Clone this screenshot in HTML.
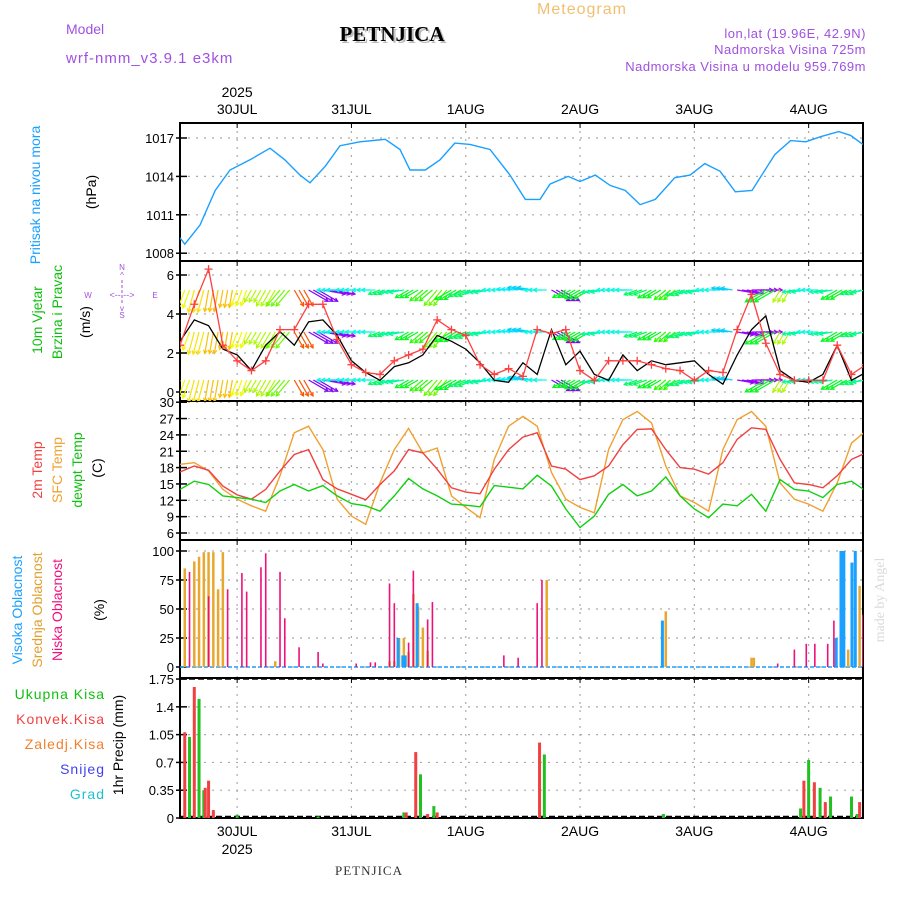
<!DOCTYPE html>
<html><head><meta charset="utf-8">
<style>
html,body{margin:0;padding:0;background:#fff;}
svg{display:block;font-family:"Liberation Sans",sans-serif;}
</style></head>
<body>
<svg id="c" width="900" height="900" viewBox="0 0 900 900">
<text x="582" y="14" font-size="16" fill="#f0c070" text-anchor="middle" letter-spacing="1">Meteogram</text>
<text x="66" y="34" font-size="14" fill="#a050e0">Model</text>
<text x="66" y="63" font-size="15" fill="#a050e0" letter-spacing="1">wrf-nmm_v3.9.1 e3km</text>
<text x="394" y="43" font-size="21" font-weight="bold" fill="#bbb" text-anchor="middle" font-family="Liberation Serif,serif">PETNJICA</text>
<text x="392" y="41" font-size="21" font-weight="bold" fill="#000" text-anchor="middle" font-family="Liberation Serif,serif">PETNJICA</text>
<text x="866" y="38" font-size="13" fill="#a050e0" text-anchor="end" letter-spacing="0.5">lon,lat (19.96E, 42.9N)</text>
<text x="866" y="54" font-size="13" fill="#a050e0" text-anchor="end" letter-spacing="0.5">Nadmorska Visina 725m</text>
<text x="866" y="71" font-size="13" fill="#a050e0" text-anchor="end" letter-spacing="0.5">Nadmorska Visina u modelu 959.769m</text>
<g id="axes"></g>
<text x="40" y="195" font-size="14" fill="#1aa0ff" text-anchor="middle" transform="rotate(-90 40 195)">Pritisak na nivou mora</text>
<text x="96" y="192" font-size="14" fill="#000" text-anchor="middle" transform="rotate(-90 96 192)">(hPa)</text>
<text x="42" y="320" font-size="14" fill="#10c010" text-anchor="middle" transform="rotate(-90 42 320)">10m Vjetar</text>
<text x="62" y="312" font-size="14" fill="#10c010" text-anchor="middle" transform="rotate(-90 62 312)">Brzina i Pravac</text>
<text x="90" y="322" font-size="14" fill="#000" text-anchor="middle" transform="rotate(-90 90 322)">(m/s)</text>
<g fill="#a050e0" font-size="8" text-anchor="middle">
<text x="122" y="270">N</text>
<text x="122" y="278">^</text>
<text x="122" y="318">S</text>
<text x="122" y="311">v</text>
<line x1="122" y1="280" x2="122" y2="305" stroke="#a050e0" stroke-dasharray="3 2"/>
<text x="88" y="298">W</text><text x="155" y="298">E</text>
<text x="122" y="298" font-size="9">&lt;-- --&gt;</text>
</g>
<text x="42" y="470" font-size="14" fill="#f04040" text-anchor="middle" transform="rotate(-90 42 470)">2m Temp</text>
<text x="62" y="470" font-size="14" fill="#f0a030" text-anchor="middle" transform="rotate(-90 62 470)">SFC Temp</text>
<text x="82" y="470" font-size="14" fill="#10c010" text-anchor="middle" transform="rotate(-90 82 470)">dewpt Temp</text>
<text x="102" y="468" font-size="14" fill="#000" text-anchor="middle" transform="rotate(-90 102 468)">(C)</text>
<text x="22" y="610" font-size="14" fill="#1aa0ff" text-anchor="middle" transform="rotate(-90 22 610)">Visoka Oblacnost</text>
<text x="42" y="610" font-size="14" fill="#e0a030" text-anchor="middle" transform="rotate(-90 42 610)">Srednja Oblacnost</text>
<text x="62" y="610" font-size="14" fill="#f0107a" text-anchor="middle" transform="rotate(-90 62 610)">Niska Oblacnost</text>
<text x="104" y="610" font-size="14" fill="#000" text-anchor="middle" transform="rotate(-90 104 610)">(%)</text>
<text x="105" y="699" font-size="14" fill="#10c010" text-anchor="end" letter-spacing="1">Ukupna Kisa</text>
<text x="105" y="724" font-size="14" fill="#f04040" text-anchor="end" letter-spacing="1">Konvek.Kisa</text>
<text x="105" y="749" font-size="14" fill="#f08030" text-anchor="end" letter-spacing="1">Zaledj.Kisa</text>
<text x="105" y="774" font-size="14" fill="#4040f0" text-anchor="end" letter-spacing="1">Snijeg</text>
<text x="105" y="799" font-size="14" fill="#20c0d0" text-anchor="end" letter-spacing="1">Grad</text>
<text x="123" y="745" font-size="14" fill="#000" text-anchor="middle" transform="rotate(-90 123 745)">1hr Precip (mm)</text>
<text x="884" y="600" font-size="14" fill="#d8dcd8" text-anchor="middle" font-family="Liberation Serif,serif" transform="rotate(-90 884 600)">made by Angel</text>
<text x="369" y="875" font-size="13" fill="#333" text-anchor="middle" font-family="Liberation Serif,serif" letter-spacing="1">PETNJICA</text>
<g id="plots"></g>
</svg>
<script>
// ---------- data ----------
const dayLabels = ["30JUL","31JUL","1AUG","2AUG","3AUG","4AUG"];
const dayHours = [12,36,60,84,108,132];
const pressureTicks = [1008,1011,1014,1017];
const windTicks = [0,2,4,6];
const tempTicks = [6,9,12,15,18,21,24,27,30];
const cloudTicks = [0,25,50,75,100];
const precipTicks = [0,0.35,0.7,1.05,1.4,1.75];
const precipTickLabels = ["0","0.35","0.7","1.05","1.4","1.75"];

const pressureHours = [0,1,4.2,7.4,10.5,14.7,18.9,22,25.2,27.3,30.5,33.6,37.8,43.1,46.2,48.3,51.5,54.6,57.7,60.9,65.1,69.3,72.5,75.6,77.7,81.5,84,87.2,90.3,93.5,96.6,99.8,103.9,107.1,110.2,113.4,116.6,120.1,124.9,128.2,131.4,134.5,138.3,140.8,143.4];
const pressure = [1009.2,1008.7,1010.2,1012.9,1014.5,1015.3,1016.2,1015.3,1014.1,1013.5,1014.8,1016.4,1016.7,1016.9,1016.1,1014.5,1014.5,1015.3,1016.6,1016.5,1016.1,1014.1,1012.2,1012.2,1013.4,1014.0,1013.6,1014.1,1013.3,1012.9,1011.8,1012.2,1013.9,1014.1,1015.0,1014.4,1012.8,1012.9,1015.7,1016.8,1016.7,1017.1,1017.5,1017.2,1016.5];

// 3-hourly series (hour = index*3)
const windSpeed = [2.6,3.7,3.4,2.2,1.9,1.1,2.4,3.1,2.4,3.6,3.7,2.9,1.6,1.0,0.6,1.3,1.5,1.9,2.9,2.6,2.2,1.5,0.6,0.5,1.5,0.9,3.2,1.4,2.1,0.9,0.6,1.9,1.1,1.6,1.4,1.5,1.6,0.9,0.4,1.9,3.2,3.9,1.1,0.6,0.5,0.9,2.4,0.6,1.0];
const windGust = [2.4,4.5,6.3,2.4,1.6,1.1,1.6,3.2,3.2,4.5,4.5,2.7,1.4,1.0,0.9,1.6,1.9,2.2,3.7,3.2,2.9,1.4,0.9,1.2,0.8,3.2,3.0,3.2,1.1,0.6,1.6,1.6,1.6,1.4,1.2,1.1,0.6,1.1,1.0,3.2,5.0,2.5,0.9,0.6,0.6,0.6,2.4,0.9,1.4];
const windDir = [20,15,10,10,20,30,30,40,330,300,280,90,90,90,70,80,60,50,40,60,70,80,90,95,100,90,300,60,60,80,90,90,70,60,50,70,80,90,100,280,270,60,30,80,90,80,60,70,80];

const t2m = [17.2,18.3,17.5,14.6,13.0,12.2,14.0,17.4,20.4,21.3,15.8,14.1,13.1,12.1,14.9,17.4,21.3,20.7,17.7,14.3,13.5,13.2,17.7,21.3,23.6,24.4,18.3,17.7,15.8,16.5,18.3,22.2,25.0,25.1,21.3,18.0,17.7,16.8,18.9,23.2,25.3,25.0,19.5,15.2,14.9,14.3,16.5,19.5,20.7];
const tsfc = [18.6,18.9,17.4,14.0,12.2,11.0,10.0,16.5,24.4,25.6,21.3,12.2,9.1,7.6,15.2,21.3,25.2,20.7,21.6,12.8,10.7,8.8,19.5,25.6,27.4,25.6,17.1,12.2,10.7,9.7,21.3,26.8,28.3,26.2,18.3,12.8,11.6,10.0,21.3,26.8,28.3,25.6,15.2,12.2,11.3,10.0,15.2,22.5,24.7];
const tdew = [14.0,15.5,14.9,12.8,12.5,12.2,11.6,13.7,14.9,13.7,14.7,12.8,11.4,11.0,10.0,12.8,16.0,14.1,12.8,11.3,11.1,10.8,14.7,14.4,14.1,16.6,14.6,10.4,7.0,9.1,13.1,14.9,12.8,13.7,16.3,12.8,10.4,8.8,11.3,11.0,13.1,10.0,15.8,14.0,13.7,12.5,14.9,15.5,13.7];

const cloudHighHours = [46,47,47.5,50,101.5,138,139,139.6,141.3,142];
const cloudHigh = [25,10,10,55,40,25,100,100,90,100];
const cloudMidHours = [1,3,4,5,6,7,8,9,20,44,45,46,47,48,49,50,51,52,77,102,120,120.5,140.3,142.7];
const cloudMid = [85,91,95,99,99,99,67,99,5,5,5,25,25,13,63,52,34,14,75,48,8,8,15,70];
const cloudLowHours = [2,6,10,13,14,17,18,21,22,25,29,30,37,40,41,44,45,48,49,52,53,68,71,75,76,125.5,129,131.5,133.3,136,137.3,143.4];
const cloudLow = [82,61,67,81,65,86,98,82,42,17,13,3,3,4,4,72,55,21,83,41,56,10,8,55,75,3,15,20,20,20,40,45];

const precipTotalHours = [2,4,5,12,29,47,50.5,53.3,76.5,101.5,130.3,132,134.4,136.6,141,142.2];
const precipTotal = [1.02,1.50,0.35,0.04,0.02,0.07,0.55,0.15,0.80,0.05,0.12,0.73,0.38,0.27,0.27,0.05];
const precipConvHours = [1,3,5.3,6,7,47.5,49.5,52,54,75.5,131,133.2,135.5,142.7];
const precipConv = [1.08,1.65,0.38,0.47,0.10,0.07,0.83,0.05,0.07,0.95,0.47,0.45,0.20,0.20];

// ---------- drawing ----------
const NS="http://www.w3.org/2000/svg";
const X0=180, X1=863, PXH=4.7625;
const xh=h=>X0+h*PXH;
function el(tag,attrs,parent){const e=document.createElementNS(NS,tag);for(const k in attrs)e.setAttribute(k,attrs[k]);parent.appendChild(e);return e;}
const axes=document.getElementById('axes'), plots=document.getElementById('plots');
const panels=[
 {top:123,bot:261,y:v=>138+(1017-v)*12.8,ticks:pressureTicks,labels:pressureTicks.map(String),name:'pressure'},
 {top:261,bot:401,y:v=>392-v*19.5,ticks:windTicks,labels:windTicks.map(String),name:'wind'},
 {top:401,bot:540,y:v=>533-(v-6)*5.45,ticks:tempTicks,labels:tempTicks.map(String),name:'temp'},
 {top:540,bot:678,y:v=>667-v*1.16,ticks:cloudTicks,labels:cloudTicks.map(String),name:'cloud'},
 {top:678,bot:818,y:v=>818-v*79.4,ticks:precipTicks,labels:precipTickLabels,name:'precip'}
];
const clipHolder=el('defs',{},plots);
panels.forEach((p,pi)=>{
 const cp=el('clipPath',{id:'cp'+pi},clipHolder);
 el('rect',{x:X0,y:p.top,width:X1-X0,height:p.bot-p.top},cp);
});
panels.forEach((p,pi)=>{
 const g=el('g',{},axes);
 
 
 p.ticks.forEach((t,i)=>{
  const y=p.y(t);
  if(p.name!=='precip'||(i>0&&i<p.ticks.length-1)) el('line',{x1:X0,x2:X1,y1:y,y2:y,stroke:'#aaa','stroke-dasharray':'2 6','stroke-width':1.2},g);
  el('line',{x1:X0-4,x2:X0+7,y1:y,y2:y,stroke:'#000','stroke-width':1.5},g);
  const tx=el('text',{x:X0-6,y:y+5,'font-size':13,'text-anchor':'end',fill:'#000'},g);
  tx.textContent=p.labels[i];
 });
 dayHours.forEach(h=>{el('line',{x1:xh(h),x2:xh(h),y1:p.top,y2:p.bot,stroke:'#aaa','stroke-dasharray':'2 6','stroke-width':1.2},g);
  el('line',{x1:xh(h),x2:xh(h),y1:p.top,y2:p.top+5,stroke:'#000'},g);});
 el('rect',{x:X0,y:p.top,width:X1-X0,height:p.bot-p.top,fill:'none',stroke:'#000','stroke-width':2},g);
});
el('line',{x1:X0,x2:X1,y1:679,y2:679,stroke:'#000','stroke-dasharray':'6 3','stroke-width':1.5},axes);
el('line',{x1:X0,x2:X1,y1:816.5,y2:816.5,stroke:'#000','stroke-dasharray':'6 3','stroke-width':1.5},axes);
dayLabels.forEach((d,i)=>{
 const t=el('text',{x:xh(dayHours[i]),y:114,'font-size':14,'text-anchor':'middle',fill:'#000'},axes);
 
 
 t.textContent=d;
 const b=el('text',{x:xh(dayHours[i]),y:836,'font-size':14,'text-anchor':'middle',fill:'#000'},axes);
 
 
 b.textContent=d;
});
[97,854].forEach(y=>{const t=el('text',{x:xh(12),y:y,'font-size':14,'text-anchor':'middle',fill:'#000'},axes);
 
 
 t.textContent='2025';});

const gp=panels.map((p,pi)=>el('g',{'clip-path':'url(#cp'+pi+')'},plots));
function line(hours,vals,pi,color,name,w){
 const p=panels[pi];
 const pts=vals.map((v,i)=>xh(hours(i)).toFixed(1)+','+p.y(v).toFixed(1)).join(' ');
 const l=el('polyline',{points:pts,fill:'none',stroke:color,'stroke-width':w||1.4},gp[pi]);
 
 
 return l;
}
line(i=>pressureHours[i],pressure,0,'#1aa0ff','pressure-line');
function windColor(d){const a=(d+360)%360;const hue=a<=120?(30+a*1.6):(a<200?260:(a<320?300-(a-200)*0.3:20));return 'hsl('+hue+',95%,50%)';}
[290,332,380].forEach((cy,r)=>{
 windDir.forEach((d,i)=>{
  for(let k=0;k<3;k++){
   const h=i*3+k; if(h>144)break;
   const s=windSpeed[i];
   const len=10+s*3.5;
   const a=(d+180)*Math.PI/180;
   const x=xh(h), y=cy;
   const x2=x+Math.sin(a)*len, y2=y-Math.cos(a)*len;
   const col=windColor(d);
   const ar=el('line',{x1:x,y1:y,x2:x2,y2:y2,stroke:col,'stroke-width':1.2},gp[1]);
   
   
   const b=Math.atan2(y2-y,x2-x);
   el('polyline',{points:(x2-4*Math.cos(b-0.5))+','+(y2-4*Math.sin(b-0.5))+' '+x2+','+y2+' '+(x2-4*Math.cos(b+0.5))+','+(y2-4*Math.sin(b+0.5)),fill:'none',stroke:col,'stroke-width':1.2},gp[1]);
  }
 });
});
line(i=>i*3,windSpeed,1,'#000','wind-speed-line',1.3);
line(i=>i*3,windGust,1,'#ff4040','wind-gust-line',1.3);
windGust.forEach((v,i)=>{const x=xh(i*3),y=panels[1].y(v);
 const m=el('path',{d:'M'+(x-4)+' '+y+'h8M'+x+' '+(y-4)+'v8',stroke:'#ff4040','stroke-width':1.3},gp[1]);
 
 });
line(i=>i*3,tsfc,2,'#f0a030','sfc-temp-line');
line(i=>i*3,t2m,2,'#f04040','t2m-line');
line(i=>i*3,tdew,2,'#10d010','dewpt-line');
function bars(hours,vals,pi,color,w,off,name){
 const p=panels[pi];
 vals.forEach((v,i)=>{const x=xh(hours[i])+off,y=p.y(v);
  const r=el('rect',{x:x-w/2,y:y,width:w,height:Math.max(0,p.y(0)-y),fill:color},gp[pi]);
  
  });
}
el('line',{x1:X0,x2:X1,y1:667,y2:667,stroke:'#1aa0ff','stroke-width':1.5,'stroke-dasharray':'4 2'},gp[3]);
bars(cloudMidHours,cloudMid,3,'#e8a830',2.5,0,'mid-cloud-bar');
bars(cloudHighHours,cloudHigh,3,'#1aa0ff',3,-1,'high-cloud-bar');
bars(cloudLowHours,cloudLow,3,'#f0107a',1.6,0,'low-cloud-bar');
bars(precipTotalHours,precipTotal,4,'#20c020',3,0,'total-precip-bar');
bars(precipConvHours,precipConv,4,'#f04040',3,0,'convective-precip-bar');
</script>
</body></html>
